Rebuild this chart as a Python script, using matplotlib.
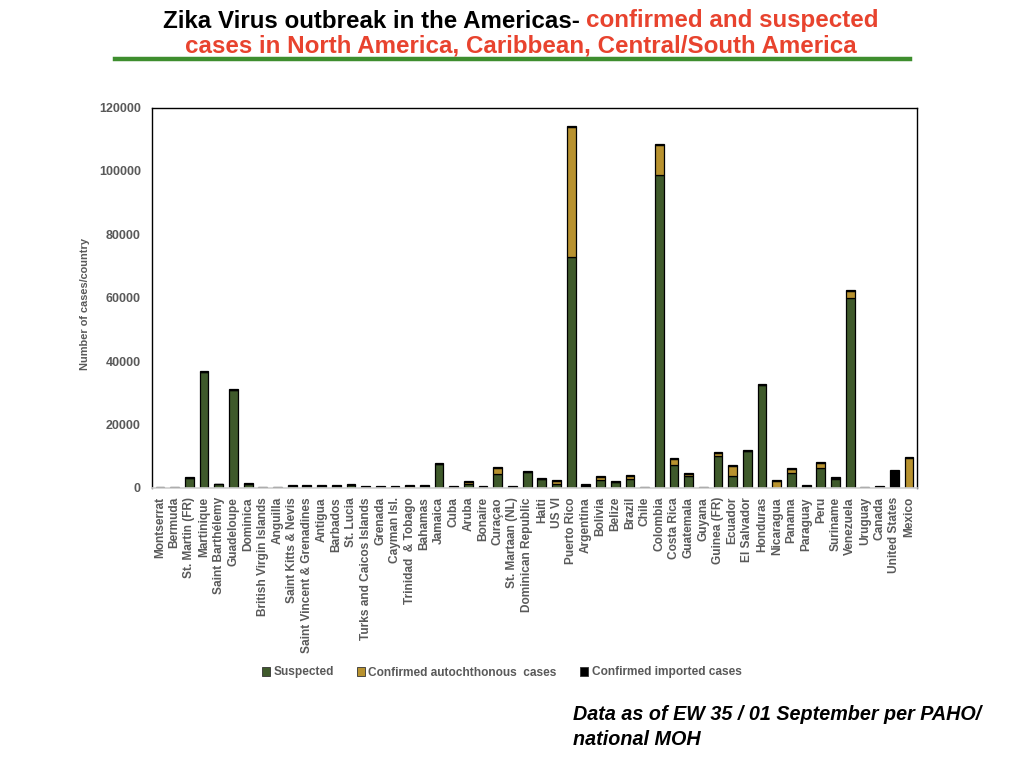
import matplotlib
matplotlib.use("Agg")
import matplotlib.pyplot as plt
import numpy as np
from matplotlib.patches import Patch

countries = ["Montserrat", "Bermuda", "St. Martin (FR)", "Martinique", "Saint Barthélemy",
             "Guadeloupe", "Dominica", "British Virgin Islands", "Anguilla", "Saint Kitts & Nevis",
             "Saint Vincent & Grenadines", "Antigua", "Barbados", "St. Lucia",
             "Turks and Caicos Islands", "Grenada", "Cayman Isl.", "Trinidad  & Tobago", "Bahamas",
             "Jamaica", "Cuba", "Aruba", "Bonaire", "Curaçao", "St. Martaan (NL)",
             "Dominican Republic", "Haiti", "US VI", "Puerto Rico", "Argentina", "Bolivia",
             "Belize", "Brazil", "Chile", "Colombia", "Costa Rica", "Guatemala", "Guyana",
             "Guinea (FR)", "Ecuador", "El Salvador", "Honduras", "Nicaragua", "Panama",
             "Paraguay", "Peru", "Suriname", "Venezuela", "Uruguay", "Canada", "United States",
             "Mexico"]

suspected = [150, 150, 3300, 36500, 1100, 30900, 1300, 150, 150, 650,
             650, 650, 650, 900, 300, 300, 300, 0, 650,
             7600, 200, 1100, 300, 4400, 300, 5000, 2800, 1100, 73000, 600, 2400,
             1900, 2900, 0, 98600, 7200, 3800, 150, 10200, 3700, 11700, 32500, 0, 4600,
             600, 6200, 2700, 59800, 0, 0, 0, 0]

confirmed = [0, 0, 0, 0, 0, 0, 0, 0, 0, 0,
             0, 0, 0, 0, 0, 0, 0, 650, 0,
             0, 0, 700, 0, 2000, 0, 0, 0, 1000, 40700, 0, 1100,
             0, 900, 0, 9700, 2000, 700, 0, 800, 3300, 0, 0, 2200, 1400,
             0, 1700, 500, 2300, 0, 0, 0, 9500]

imported = [250, 250, 150, 300, 100, 300, 200, 250, 250, 150,
            150, 150, 150, 200, 200, 200, 200, 150, 150,
            300, 300, 400, 300, 200, 300, 300, 300, 300, 400, 600, 300,
            300, 300, 400, 100, 300, 300, 300, 300, 300, 300, 300, 300, 300,
            400, 300, 300, 300, 400, 600, 5700, 300]

series_names = ["Suspected", "Confirmed autochthonous  cases", "Confirmed imported cases"]
colors = ["#3F5A2B", "#B8922F", "#000000"]

plt.rcParams['font.family'] = ['Liberation Sans', 'DejaVu Sans']

fig = plt.figure(figsize=(10.24, 7.68), dpi=100)
ax = fig.add_axes([0.1484, 0.3646, 0.7471, 0.4954])

x = np.arange(len(countries))
s = np.array(suspected, dtype=float)
c = np.array(confirmed, dtype=float)
i = np.array(imported, dtype=float)
w = 0.6
ax.bar(x, s, w, color=colors[0], edgecolor="black", linewidth=0.9)
ax.bar(x, c, w, bottom=s, color=colors[1], edgecolor="black", linewidth=0.9)
ax.bar(x, i, w, bottom=s + c, color=colors[2], edgecolor="black", linewidth=0.9)

ax.set_xlim(-0.55, len(countries) - 0.45)
ax.set_ylim(0, 120000)
ax.set_yticks(np.arange(0, 120001, 20000))
ax.set_xticks(x)
ax.set_xticklabels(countries, rotation=90, fontsize=8.6, fontweight="bold", color="#595959")
ax.tick_params(axis="y", length=0, labelsize=9, labelcolor="#595959", pad=8)
ax.tick_params(axis="x", length=0, pad=6.5)
for lab in ax.get_yticklabels():
    lab.set_fontweight("bold")
ax.set_ylabel("Number of cases/country", fontsize=7.9, fontweight="bold", color="#595959")
ax.yaxis.set_label_coords(-0.081, 0.484)

for side in ["left", "top", "right"]:
    ax.spines[side].set_color("black")
    ax.spines[side].set_linewidth(1.0)
ax.spines["bottom"].set_color("#D0D0D0")
ax.spines["bottom"].set_linewidth(1.2)

handles = [Patch(facecolor=colors[k], edgecolor="#333333", linewidth=0.6) for k in range(3)]
fig.legend(handles, series_names, loc="center", bbox_to_anchor=(0.4897, 1 - 672.5 / 768), ncol=3,
           frameon=False, prop={"size": 8.6, "weight": "bold"}, labelcolor="#595959",
           handlelength=0.7, handleheight=0.7, handletextpad=0.3, columnspacing=1.9)

# Title (two colours)
title_font = dict(fontsize=17.4, fontweight="bold", family=["Liberation Sans Narrow", "Liberation Sans", "DejaVu Sans"])
t1 = fig.text(0, 0, "Zika Virus outbreak in the Americas- ", color="black", va="baseline", ha="left", **title_font)
t2 = fig.text(0, 0, "confirmed and suspected", color="#E8432E", va="baseline", ha="left", **title_font)
t3 = fig.text(0.5085, 1 - 52.5 / 768, "cases in North America, Caribbean, Central/South America",
              color="#E8432E", va="baseline", ha="center", **title_font)
fig.canvas.draw()
r = fig.canvas.get_renderer()
w1 = t1.get_window_extent(r).width
w2 = t2.get_window_extent(r).width
W = fig.bbox.width
x0 = 0.5085 * W - (w1 + w2) / 2
y1 = 1 - 27.5 / 768
t1.set_position((x0 / W, y1))
t2.set_position(((x0 + w1) / W, y1))

fig.add_artist(plt.Line2D([115 / 1024, 910 / 1024], [1 - 58.5 / 768, 1 - 58.5 / 768],
                          color="#3E8E2E", linewidth=3.2, transform=fig.transFigure))

note_font = dict(fontsize=14.2, fontweight="bold", style="italic", color="black", ha="left", va="baseline")
fig.text(573 / 1024, 1 - 720 / 768, "Data as of EW 35 / 01 September per PAHO/", **note_font)
fig.text(573 / 1024, 1 - 745 / 768, "national MOH", **note_font)

fig.savefig("out.png", dpi=100)
